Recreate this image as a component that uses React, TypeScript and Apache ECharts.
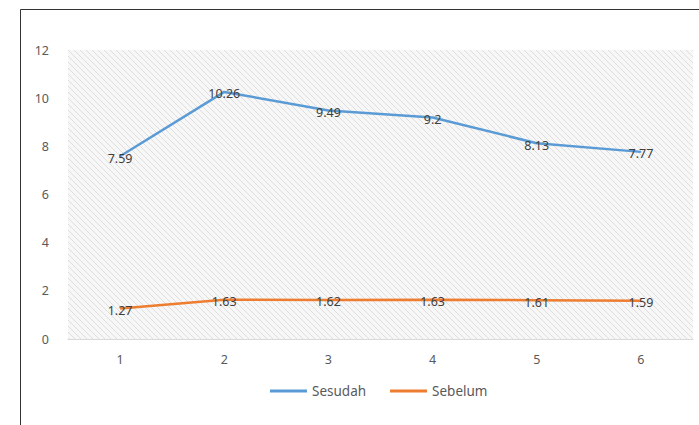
import React, { useEffect, useRef } from "react";
import * as echarts from "echarts";

const categories = ["1", "2", "3", "4", "5", "6"];
const sesudah = [7.59, 10.26, 9.49, 9.2, 8.13, 7.77];
const sebelum = [1.27, 1.63, 1.62, 1.63, 1.61, 1.59];
const seriesNames = ["Sesudah", "Sebelum"];

function makeHatch(): HTMLCanvasElement {
  const c = document.createElement("canvas");
  c.width = 6;
  c.height = 6;
  const ctx = c.getContext("2d")!;
  ctx.fillStyle = "#f7f7f7";
  ctx.fillRect(0, 0, 6, 6);
  ctx.strokeStyle = "#dedede";
  ctx.lineWidth = 1;
  ctx.beginPath();
  ctx.moveTo(0, 0);
  ctx.lineTo(6, 6);
  ctx.moveTo(-3, 3);
  ctx.lineTo(3, 9);
  ctx.moveTo(3, -3);
  ctx.lineTo(9, 3);
  ctx.stroke();
  return c;
}

export default function App() {
  const ref = useRef<HTMLDivElement>(null);
  useEffect(() => {
    if (!ref.current) return;
    const chart = echarts.init(ref.current, undefined, { renderer: "svg" });
    const font = "'Noto Sans', 'Open Sans', sans-serif";
    const hatch = makeHatch();
    const dataLabel = {
      show: true,
      position: "top",
      distance: 0,
      offset: [0, 9],
      color: "#404040",
      fontSize: 12.5,
      fontFamily: font,
    };
    chart.setOption({
      animation: false,
      backgroundColor: "#ffffff",
      textStyle: { fontFamily: font },
      graphic: [
        {
          type: "line",
          shape: { x1: 20.5, y1: 9.5, x2: 699, y2: 9.5 },
          style: { stroke: "#333333", lineWidth: 1 },
        },
        {
          type: "line",
          shape: { x1: 20.5, y1: 9.5, x2: 20.5, y2: 425 },
          style: { stroke: "#333333", lineWidth: 1 },
        },
      ],
      grid: {
        left: 68,
        right: 6,
        top: 50,
        bottom: 86,
        show: true,
        borderWidth: 0,
        backgroundColor: { image: hatch, repeat: "repeat" },
      },
      legend: {
        data: seriesNames,
        bottom: 22,
        left: 265,
        itemWidth: 37,
        itemHeight: 3,
        itemGap: 24,
        itemStyle: { borderWidth: 0 },
        icon: "rect",
        textStyle: { color: "#595959", fontSize: 13.5, fontFamily: font },
      },
      xAxis: {
        type: "category",
        data: categories,
        boundaryGap: true,
        axisLine: { lineStyle: { color: "#d9d9d9" } },
        axisTick: { show: false },
        axisLabel: { color: "#595959", fontSize: 12.5, margin: 14, fontFamily: font },
      },
      yAxis: {
        type: "value",
        min: 0,
        max: 12,
        interval: 2,
        axisLine: { show: false },
        axisTick: { show: false },
        splitLine: { show: false },
        axisLabel: { color: "#595959", fontSize: 12.5, margin: 19, fontFamily: font },
      },
      series: [
        {
          name: seriesNames[0],
          type: "line",
          data: sesudah,
          symbol: "circle",
          symbolSize: 1,
          showSymbol: true,
          lineStyle: { color: "#5b9bd5", width: 2.5 },
          itemStyle: { color: "#5b9bd5" },
          label: dataLabel,
        },
        {
          name: seriesNames[1],
          type: "line",
          data: sebelum,
          symbol: "circle",
          symbolSize: 1,
          showSymbol: true,
          lineStyle: { color: "#ed7d31", width: 2.5 },
          itemStyle: { color: "#ed7d31" },
          label: dataLabel,
        },
      ],
    });
    return () => chart.dispose();
  }, []);
  return (
    <div
      ref={ref}
      style={{ position: "fixed", left: 0, top: 0, width: 699, height: 425 }}
    />
  );
}
